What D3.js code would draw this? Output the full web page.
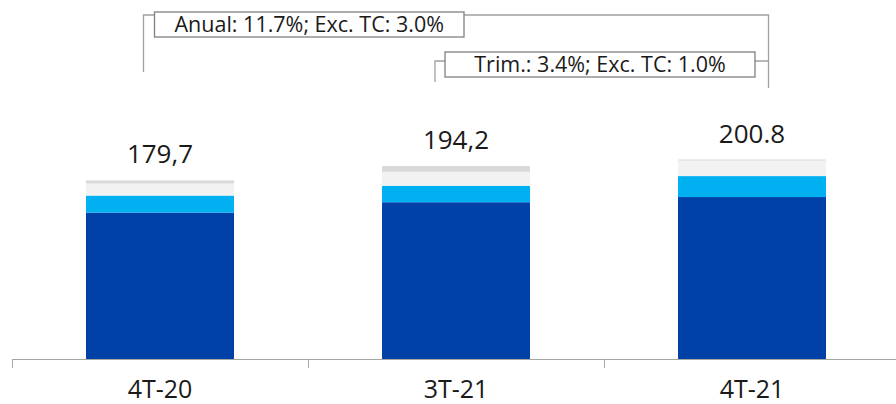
<!DOCTYPE html>
<html>
<head>
<meta charset="utf-8">
<script src="https://cdn.jsdelivr.net/npm/d3@7"></script>
<style>
  html, body { margin: 0; padding: 0; background: #fff; }
  svg { display: block; }
  text { font-family: "Open Sans", "DejaVu Sans", sans-serif; fill: #1a1a1a; }
</style>
</head>
<body>
<svg id="chart" width="896" height="404"></svg>
<script>
// ---- data ----
const categories = ["4T-20", "3T-21", "4T-21"];
const totalLabels = ["179,7", "194,2", "200.8"];
const seriesNames = ["s1", "s2", "s3", "s4"];
const s1Values = [147.3, 157.8, 163.0];   // dark blue
const s2Values = [17.2, 16.6, 21.1];      // cyan
const s3Values = [12.1, 14.1, 15.6];      // light gray
const s4Values = [3.1, 5.7, 1.1];         // gray
const annualLabel = "Anual: 11.7%; Exc. TC: 3.0%";
const trimLabel = "Trim.: 3.4%; Exc. TC: 1.0%";

const colors = ["#0041A8", "#00B0F0", "#F2F2F2", "#D9D9D9"];

const svg = d3.select("#chart");
const baseY = 359;

const x = d3.scaleBand().domain(categories).range([12, 900])
  .paddingInner(0.5).paddingOuter(0.25);
const totals = categories.map((c, i) => s1Values[i] + s2Values[i] + s3Values[i] + s4Values[i]);
const y = d3.scaleLinear().domain([0, 200.8]).range([baseY, 159.5]);

const table = categories.map((c, i) => ({
  cat: c, s1: s1Values[i], s2: s2Values[i], s3: s3Values[i], s4: s4Values[i]
}));
const stack = d3.stack().keys(seriesNames)(table);

svg.append("g").selectAll("g").data(stack).join("g")
  .attr("fill", (d, i) => colors[i])
  .selectAll("rect").data(d => d).join("rect")
  .attr("x", d => x(d.data.cat))
  .attr("width", x.bandwidth())
  .attr("y", d => y(d[1]))
  .attr("height", d => y(d[0]) - y(d[1]));

// total labels
svg.append("g").selectAll("text").data(categories).join("text")
  .attr("x", c => x(c) + x.bandwidth() / 2)
  .attr("y", (c, i) => y(totals[i]) - 17)
  .attr("text-anchor", "middle")
  .attr("font-size", 26)
  .text((c, i) => totalLabels[i]);

// axis
const step = x.step();
const boundaries = [0, 1, 2, 3].map(i => 12 + i * step);
svg.append("line").attr("x1", 12).attr("x2", 896).attr("y1", baseY + 0.5).attr("y2", baseY + 0.5)
  .attr("stroke", "#A6A6A6").attr("stroke-width", 1);
svg.append("g").selectAll("line").data(boundaries).join("line")
  .attr("x1", d => d + 0.5).attr("x2", d => d + 0.5)
  .attr("y1", baseY).attr("y2", baseY + 9)
  .attr("stroke", "#A6A6A6");
const axis = svg.append("g").attr("transform", `translate(0,${baseY})`)
  .call(d3.axisBottom(x).tickSize(0).tickPadding(0));
axis.select(".domain").remove();
axis.selectAll("text").attr("dy", null).attr("y", 38.5)
  .attr("font-size", 25).attr("fill", "#1a1a1a")
  .style("font-family", "'Open Sans', 'DejaVu Sans', sans-serif");

// brackets
const lineColor = "#A0A0A0";
const g = svg.append("g").attr("fill", "none").attr("stroke", lineColor).attr("stroke-width", 1.3);
const c0 = x(categories[0]) + x.bandwidth() / 2;
const c1 = x(categories[1]) + x.bandwidth() / 2;
const c2 = x(categories[2]) + x.bandwidth() / 2;

// annual bracket
const aLeft = c0 - 16.5, aRight = c2 + 16.5, aY = 15;
g.append("path").attr("d", `M${aLeft},72 V${aY} H${aRight} V88`);
// trim bracket
const tLeft = c1 - 21, tY = 61;
g.append("path").attr("d", `M${tLeft},82 V${tY} H${aRight}`);

// boxes
function box(x0, x1, y0, y1, label, fs) {
  svg.append("rect").attr("x", x0).attr("y", y0).attr("width", x1 - x0).attr("height", y1 - y0)
    .attr("fill", "#fff").attr("stroke", "#808080").attr("stroke-width", 1.3);
  svg.append("text").attr("x", (x0 + x1) / 2).attr("y", (y0 + y1) / 2 + 7.5)
    .attr("text-anchor", "middle").attr("font-size", fs).text(label);
}
box(154.5, 464, 12, 37, annualLabel, 21.5);
box(445, 755, 52, 77, trimLabel, 21.5);
</script>
</body>
</html>
